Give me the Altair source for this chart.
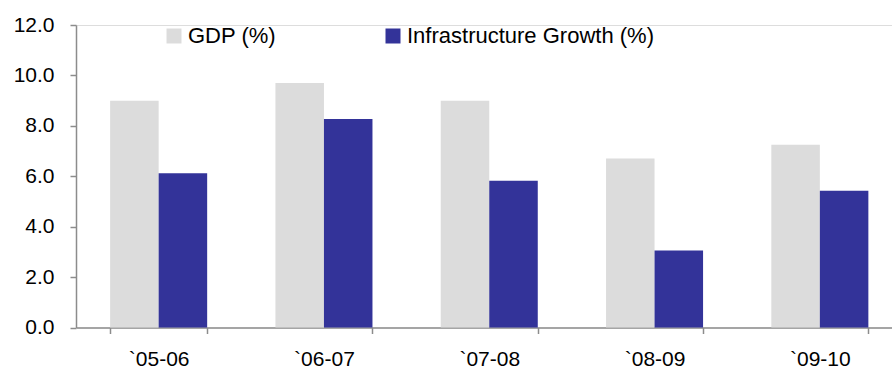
import altair as alt
import pandas as pd

periods = ["`05-06", "`06-07", "`07-08", "`08-09", "`09-10"]
series = ["GDP (%)", "Infrastructure Growth (%)"]
gdp = [9.0, 9.7, 9.0, 6.7, 7.25]
infra = [6.12, 8.27, 5.82, 3.05, 5.42]
colors = ["#DCDCDC", "#333399"]
y_ticks = [0, 2, 4, 6, 8, 10, 12]

rows = []
for p, g, i in zip(periods, gdp, infra):
    rows.append({"period": p, "series": series[0], "value": g})
    rows.append({"period": p, "series": series[1], "value": i})
df = pd.DataFrame(rows)

FONT = "Liberation Sans"
FS = 21

chart = (
    alt.Chart(df)
    .mark_bar()
    .encode(
        x=alt.X(
            "period:N",
            sort=periods,
            title=None,
            scale=alt.Scale(range=[0, 826.5], paddingInner=0.413, paddingOuter=0.2065),
            axis=alt.Axis(
                labelAngle=0,
                tickBand="extent",
                tickSize=6,
                labelPadding=15,
                labelFontSize=FS,
                labelFont=FONT,
                labelColor="#000000",
                domainColor="#8c8c8c",
                domainWidth=1.5,
                tickColor="#8c8c8c",
                tickWidth=1.5,
            ),
        ),
        xOffset=alt.XOffset("series:N", sort=series, scale=alt.Scale(paddingInner=0, paddingOuter=0)),
        y=alt.Y(
            "value:Q",
            title=None,
            scale=alt.Scale(domain=[0, 12], nice=False),
            axis=alt.Axis(
                values=y_ticks,
                format=".1f",
                grid=False,
                tickSize=6,
                labelPadding=16,
                labelFontSize=FS,
                labelFont=FONT,
                labelColor="#000000",
                domainColor="#8c8c8c",
                domainWidth=1.5,
                tickColor="#8c8c8c",
                tickWidth=1.5,
            ),
        ),
        color=alt.Color(
            "series:N",
            sort=series,
            scale=alt.Scale(domain=series, range=colors),
            legend=alt.Legend(
                title=None,
                orient="none",
                direction="horizontal",
                legendX=87,
                legendY=0,
                symbolType="square",
                symbolSize=225,
                symbolStrokeWidth=0,
                labelFontSize=22,
                labelFont=FONT,
                labelColor="#000000",
                labelOffset=3,
                columnPadding=106,
                labelLimit=400,
            ),
        ),
    )
    .properties(
        width=816,
        height=302.5,
        autosize=alt.AutoSizeParams(type="none"),
        padding={"left": 76, "top": 25, "right": 0, "bottom": 41.5},
    )
    .configure_view(stroke=None)
    .configure(background="white")
)

chart.save("out.html", embed_options={"renderer": "svg", "actions": False})
